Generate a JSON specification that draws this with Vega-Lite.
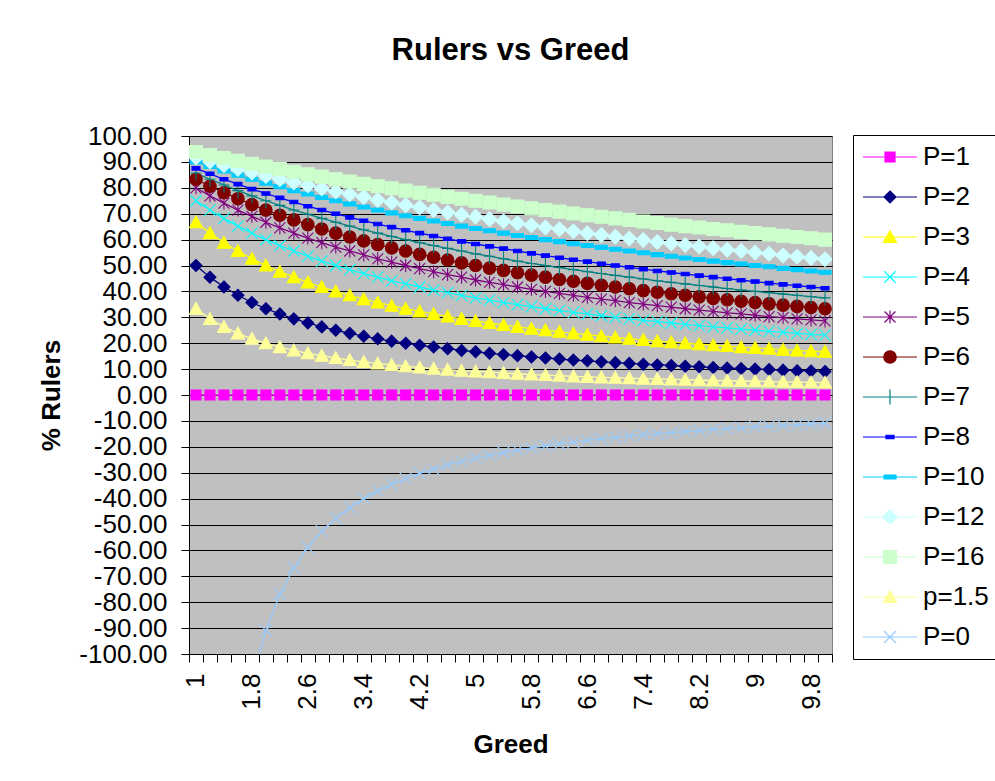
{
  "$schema": "https://vega.github.io/schema/vega-lite/v6.json",
  "width": 643,
  "height": 518,
  "autosize": {"type": "none"},
  "padding": {"left": 189, "top": 136, "right": 163, "bottom": 127},
  "background": "white",
  "title": {"text": "Rulers vs Greed", "font": "Liberation Sans", "fontSize": 31, "fontWeight": "bold", "color": "black", "anchor": "middle", "frame": "group", "offset": 56},
  "config": {
    "font": "Liberation Sans",
    "view": {"fill": "#C0C0C0", "stroke": "#808080", "strokeWidth": 1},
    "axis": {"labelFont": "Liberation Sans", "labelFontSize": 26, "labelColor": "black", "titleFont": "Liberation Sans", "titleFontSize": 26, "titleFontWeight": "bold", "titleColor": "black", "domainColor": "black", "tickColor": "black", "tickSize": 8, "gridColor": "black", "gridOpacity": 1, "gridWidth": 1}
  },
  "data": {"values": [
    {"G":1,"P1":0,"P2":50,"P3":66.7,"P4":75,"P5":80,"P6":83.3,"P7":85.7,"P8":87.5,"P10":90,"P12":91.7,"P16":93.8,"p15":33.3,"P0":-1000},
    {"G":1.2,"P1":0,"P2":45.5,"P3":62.5,"P4":71.4,"P5":76.9,"P6":80.6,"P7":83.3,"P8":85.4,"P10":88.2,"P12":90.2,"P16":92.6,"p15":29.4,"P0":-333.3},
    {"G":1.4,"P1":0,"P2":41.7,"P3":58.8,"P4":68.2,"P5":74.1,"P6":78.1,"P7":81.1,"P8":83.3,"P10":86.5,"P12":88.7,"P16":91.5,"p15":26.3,"P0":-200},
    {"G":1.6,"P1":0,"P2":38.5,"P3":55.6,"P4":65.2,"P5":71.4,"P6":75.8,"P7":78.9,"P8":81.4,"P10":84.9,"P12":87.3,"P16":90.4,"p15":23.8,"P0":-142.9},
    {"G":1.8,"P1":0,"P2":35.7,"P3":52.6,"P4":62.5,"P5":69,"P6":73.5,"P7":76.9,"P8":79.5,"P10":83.3,"P12":85.9,"P16":89.3,"p15":21.7,"P0":-111.1},
    {"G":2,"P1":0,"P2":33.3,"P3":50,"P4":60,"P5":66.7,"P6":71.4,"P7":75,"P8":77.8,"P10":81.8,"P12":84.6,"P16":88.2,"p15":20,"P0":-90.9},
    {"G":2.2,"P1":0,"P2":31.3,"P3":47.6,"P4":57.7,"P5":64.5,"P6":69.4,"P7":73.2,"P8":76.1,"P10":80.4,"P12":83.3,"P16":87.2,"p15":18.5,"P0":-76.9},
    {"G":2.4,"P1":0,"P2":29.4,"P3":45.5,"P4":55.6,"P5":62.5,"P6":67.6,"P7":71.4,"P8":74.5,"P10":78.9,"P12":82.1,"P16":86.2,"p15":17.2,"P0":-66.7},
    {"G":2.6,"P1":0,"P2":27.8,"P3":43.5,"P4":53.6,"P5":60.6,"P6":65.8,"P7":69.8,"P8":72.9,"P10":77.6,"P12":80.9,"P16":85.2,"p15":16.1,"P0":-58.8},
    {"G":2.8,"P1":0,"P2":26.3,"P3":41.7,"P4":51.7,"P5":58.8,"P6":64.1,"P7":68.2,"P8":71.4,"P10":76.3,"P12":79.7,"P16":84.3,"p15":15.2,"P0":-52.6},
    {"G":3,"P1":0,"P2":25,"P3":40,"P4":50,"P5":57.1,"P6":62.5,"P7":66.7,"P8":70,"P10":75,"P12":78.6,"P16":83.3,"p15":14.3,"P0":-47.6},
    {"G":3.2,"P1":0,"P2":23.8,"P3":38.5,"P4":48.4,"P5":55.6,"P6":61,"P7":65.2,"P8":68.6,"P10":73.8,"P12":77.5,"P16":82.4,"p15":13.5,"P0":-43.5},
    {"G":3.4,"P1":0,"P2":22.7,"P3":37,"P4":46.9,"P5":54.1,"P6":59.5,"P7":63.8,"P8":67.3,"P10":72.6,"P12":76.4,"P16":81.5,"p15":12.8,"P0":-40},
    {"G":3.6,"P1":0,"P2":21.7,"P3":35.7,"P4":45.5,"P5":52.6,"P6":58.1,"P7":62.5,"P8":66,"P10":71.4,"P12":75.3,"P16":80.6,"p15":12.2,"P0":-37},
    {"G":3.8,"P1":0,"P2":20.8,"P3":34.5,"P4":44.1,"P5":51.3,"P6":56.8,"P7":61.2,"P8":64.8,"P10":70.3,"P12":74.3,"P16":79.8,"p15":11.6,"P0":-34.5},
    {"G":4,"P1":0,"P2":20,"P3":33.3,"P4":42.9,"P5":50,"P6":55.6,"P7":60,"P8":63.6,"P10":69.2,"P12":73.3,"P16":78.9,"p15":11.1,"P0":-32.3},
    {"G":4.2,"P1":0,"P2":19.2,"P3":32.3,"P4":41.7,"P5":48.8,"P6":54.3,"P7":58.8,"P8":62.5,"P10":68.2,"P12":72.4,"P16":78.1,"p15":10.6,"P0":-30.3},
    {"G":4.4,"P1":0,"P2":18.5,"P3":31.3,"P4":40.5,"P5":47.6,"P6":53.2,"P7":57.7,"P8":61.4,"P10":67.2,"P12":71.4,"P16":77.3,"p15":10.2,"P0":-28.6},
    {"G":4.6,"P1":0,"P2":17.9,"P3":30.3,"P4":39.5,"P5":46.5,"P6":52.1,"P7":56.6,"P8":60.3,"P10":66.2,"P12":70.5,"P16":76.5,"p15":9.8,"P0":-27},
    {"G":4.8,"P1":0,"P2":17.2,"P3":29.4,"P4":38.5,"P5":45.5,"P6":51,"P7":55.6,"P8":59.3,"P10":65.2,"P12":69.6,"P16":75.8,"p15":9.4,"P0":-25.6},
    {"G":5,"P1":0,"P2":16.7,"P3":28.6,"P4":37.5,"P5":44.4,"P6":50,"P7":54.5,"P8":58.3,"P10":64.3,"P12":68.8,"P16":75,"p15":9.1,"P0":-24.4},
    {"G":5.2,"P1":0,"P2":16.1,"P3":27.8,"P4":36.6,"P5":43.5,"P6":49,"P7":53.6,"P8":57.4,"P10":63.4,"P12":67.9,"P16":74.3,"p15":8.8,"P0":-23.3},
    {"G":5.4,"P1":0,"P2":15.6,"P3":27,"P4":35.7,"P5":42.6,"P6":48.1,"P7":52.6,"P8":56.5,"P10":62.5,"P12":67.1,"P16":73.5,"p15":8.5,"P0":-22.2},
    {"G":5.6,"P1":0,"P2":15.2,"P3":26.3,"P4":34.9,"P5":41.7,"P6":47.2,"P7":51.7,"P8":55.6,"P10":61.6,"P12":66.3,"P16":72.8,"p15":8.2,"P0":-21.3},
    {"G":5.8,"P1":0,"P2":14.7,"P3":25.6,"P4":34.1,"P5":40.8,"P6":46.3,"P7":50.8,"P8":54.7,"P10":60.8,"P12":65.5,"P16":72.1,"p15":7.9,"P0":-20.4},
    {"G":6,"P1":0,"P2":14.3,"P3":25,"P4":33.3,"P5":40,"P6":45.5,"P7":50,"P8":53.8,"P10":60,"P12":64.7,"P16":71.4,"p15":7.7,"P0":-19.6},
    {"G":6.2,"P1":0,"P2":13.9,"P3":24.4,"P4":32.6,"P5":39.2,"P6":44.6,"P7":49.2,"P8":53,"P10":59.2,"P12":64,"P16":70.8,"p15":7.5,"P0":-18.9},
    {"G":6.4,"P1":0,"P2":13.5,"P3":23.8,"P4":31.9,"P5":38.5,"P6":43.9,"P7":48.4,"P8":52.2,"P10":58.4,"P12":63.2,"P16":70.1,"p15":7.2,"P0":-18.2},
    {"G":6.6,"P1":0,"P2":13.2,"P3":23.3,"P4":31.3,"P5":37.7,"P6":43.1,"P7":47.6,"P8":51.5,"P10":57.7,"P12":62.5,"P16":69.4,"p15":7,"P0":-17.5},
    {"G":6.8,"P1":0,"P2":12.8,"P3":22.7,"P4":30.6,"P5":37,"P6":42.4,"P7":46.9,"P8":50.7,"P10":57,"P12":61.8,"P16":68.8,"p15":6.8,"P0":-16.9},
    {"G":7,"P1":0,"P2":12.5,"P3":22.2,"P4":30,"P5":36.4,"P6":41.7,"P7":46.2,"P8":50,"P10":56.3,"P12":61.1,"P16":68.2,"p15":6.7,"P0":-16.4},
    {"G":7.2,"P1":0,"P2":12.2,"P3":21.7,"P4":29.4,"P5":35.7,"P6":41,"P7":45.5,"P8":49.3,"P10":55.6,"P12":60.4,"P16":67.6,"p15":6.5,"P0":-15.9},
    {"G":7.4,"P1":0,"P2":11.9,"P3":21.3,"P4":28.8,"P5":35.1,"P6":40.3,"P7":44.8,"P8":48.6,"P10":54.9,"P12":59.8,"P16":67,"p15":6.3,"P0":-15.4},
    {"G":7.6,"P1":0,"P2":11.6,"P3":20.8,"P4":28.3,"P5":34.5,"P6":39.7,"P7":44.1,"P8":47.9,"P10":54.2,"P12":59.1,"P16":66.4,"p15":6.2,"P0":-14.9},
    {"G":7.8,"P1":0,"P2":11.4,"P3":20.4,"P4":27.8,"P5":33.9,"P6":39.1,"P7":43.5,"P8":47.3,"P10":53.6,"P12":58.5,"P16":65.8,"p15":6,"P0":-14.5},
    {"G":8,"P1":0,"P2":11.1,"P3":20,"P4":27.3,"P5":33.3,"P6":38.5,"P7":42.9,"P8":46.7,"P10":52.9,"P12":57.9,"P16":65.2,"p15":5.9,"P0":-14.1},
    {"G":8.2,"P1":0,"P2":10.9,"P3":19.6,"P4":26.8,"P5":32.8,"P6":37.9,"P7":42.3,"P8":46.1,"P10":52.3,"P12":57.3,"P16":64.7,"p15":5.7,"P0":-13.7},
    {"G":8.4,"P1":0,"P2":10.6,"P3":19.2,"P4":26.3,"P5":32.3,"P6":37.3,"P7":41.7,"P8":45.5,"P10":51.7,"P12":56.7,"P16":64.1,"p15":5.6,"P0":-13.3},
    {"G":8.6,"P1":0,"P2":10.4,"P3":18.9,"P4":25.9,"P5":31.7,"P6":36.8,"P7":41.1,"P8":44.9,"P10":51.1,"P12":56.1,"P16":63.6,"p15":5.5,"P0":-13},
    {"G":8.8,"P1":0,"P2":10.2,"P3":18.5,"P4":25.4,"P5":31.3,"P6":36.2,"P7":40.5,"P8":44.3,"P10":50.6,"P12":55.6,"P16":63,"p15":5.4,"P0":-12.7},
    {"G":9,"P1":0,"P2":10,"P3":18.2,"P4":25,"P5":30.8,"P6":35.7,"P7":40,"P8":43.8,"P10":50,"P12":55,"P16":62.5,"p15":5.3,"P0":-12.3},
    {"G":9.2,"P1":0,"P2":9.8,"P3":17.9,"P4":24.6,"P5":30.3,"P6":35.2,"P7":39.5,"P8":43.2,"P10":49.5,"P12":54.5,"P16":62,"p15":5.2,"P0":-12},
    {"G":9.4,"P1":0,"P2":9.6,"P3":17.5,"P4":24.2,"P5":29.9,"P6":34.7,"P7":39,"P8":42.7,"P10":48.9,"P12":53.9,"P16":61.5,"p15":5.1,"P0":-11.8},
    {"G":9.6,"P1":0,"P2":9.4,"P3":17.2,"P4":23.8,"P5":29.4,"P6":34.2,"P7":38.5,"P8":42.2,"P10":48.4,"P12":53.4,"P16":61,"p15":5,"P0":-11.5},
    {"G":9.8,"P1":0,"P2":9.3,"P3":16.9,"P4":23.4,"P5":29,"P6":33.8,"P7":38,"P8":41.7,"P10":47.9,"P12":52.9,"P16":60.5,"p15":4.9,"P0":-11.2},
    {"G":10,"P1":0,"P2":9.1,"P3":16.7,"P4":23.1,"P5":28.6,"P6":33.3,"P7":37.5,"P8":41.2,"P10":47.4,"P12":52.4,"P16":60,"p15":4.8,"P0":-11}
  ]},
  "transform": [
    {"fold": ["P1","P2","P3","P4","P5","P6","P7","P8","P10","P12","P16","p15","P0"], "as": ["key","value"]},
    {"lookup": "key", "from": {"data": {"values": [
      {"key":"P1","label":"P=1","idx":1},{"key":"P2","label":"P=2","idx":2},{"key":"P3","label":"P=3","idx":3},
      {"key":"P4","label":"P=4","idx":4},{"key":"P5","label":"P=5","idx":5},{"key":"P6","label":"P=6","idx":6},
      {"key":"P7","label":"P=7","idx":7},{"key":"P8","label":"P=8","idx":8},{"key":"P10","label":"P=10","idx":9},
      {"key":"P12","label":"P=12","idx":10},{"key":"P16","label":"P=16","idx":11},{"key":"p15","label":"p=1.5","idx":12},
      {"key":"P0","label":"P=0","idx":13}]}, "key": "key", "fields": ["label","idx"]}}
  ],
  "encoding": {
    "x": {"field": "G", "type": "quantitative",
      "scale": {"domain": [0.9, 10.1], "nice": false, "zero": false},
      "axis": {"values": [0.9,1.1,1.3,1.5,1.7,1.9,2.1,2.3,2.5,2.7,2.9,3.1,3.3,3.5,3.7,3.9,4.1,4.3,4.5,4.7,4.9,5.1,5.3,5.5,5.7,5.9,6.1,6.3,6.5,6.7,6.9,7.1,7.3,7.5,7.7,7.9,8.1,8.3,8.5,8.7,8.9,9.1,9.3,9.5,9.7,9.9,10.1],
        "labelExpr": "indexof([0.9,1.7,2.5,3.3,4.1,4.9,5.7,6.5,7.3,8.1,8.9,9.7], datum.value) >= 0 ? ['1','1.8','2.6','3.4','4.2','5','5.8','6.6','7.4','8.2','9','9.8'][indexof([0.9,1.7,2.5,3.3,4.1,4.9,5.7,6.5,7.3,8.1,8.9,9.7], datum.value)] : ''",
        "labelAngle": -90, "labelOffset": 6.99, "labelPadding": 11, "labelOverlap": false, "labelFlush": false, "labelBound": false,
        "grid": false, "title": "Greed", "titleY": 98, "titleBaseline": "alphabetic"}},
    "y": {"field": "value", "type": "quantitative",
      "scale": {"domain": [-100, 100], "nice": false, "zero": false},
      "axis": {"values": [-100,-90,-80,-70,-60,-50,-40,-30,-20,-10,0,10,20,30,40,50,60,70,80,90,100],
        "labelExpr": "(datum.value < 0 ? '-' : '') + format(abs(datum.value), '.2f')",
        "labelPadding": 14, "labelOverlap": false, "grid": true,
        "title": "% Rulers", "titleAngle": -90, "titleX": -130, "titleY": 259, "titleBaseline": "alphabetic", "titleAlign": "center"}}
  },
  "resolve": {"scale": {"color": "independent", "fill": "independent", "stroke": "independent", "shape": "independent"}},
  "layer": [
    {
      "mark": {"type": "line", "strokeWidth": 1.3, "clip": true},
      "encoding": {
        "stroke": {"field": "label", "type": "nominal",
          "scale": {"domain": ["P=1","P=2","P=3","P=4","P=5","P=6","P=7","P=8","P=10","P=12","P=16","p=1.5","P=0"],
                    "range": ["#FF00FF","#000080","#FFFF00","#00FFFF","#800080","#800000","#008080","#0000FF","#00CCFF","#CCFFFF","#CCFFCC","#FFFF99","#99CCFF"]},
          "legend": null}
      }
    },
    {
      "mark": {"type": "point", "filled": true, "size": 100, "opacity": 1, "strokeWidth": 1.1, "clip": true},
      "encoding": {
        "color": {"field": "label", "type": "nominal",
          "scale": {"domain": ["P=1","P=2","P=3","P=4","P=5","P=6","P=7","P=8","P=10","P=12","P=16","p=1.5","P=0"],
                    "range": ["#FF00FF","#000080","#FFFF00","#00FFFF","#800080","#800000","#008080","#0000FF","#00CCFF","#CCFFFF","#CCFFCC","#FFFF99","#99CCFF"]},
          "legend": null},
        "stroke": {"field": "label", "type": "nominal",
          "scale": {"domain": ["P=1","P=2","P=3","P=4","P=5","P=6","P=7","P=8","P=10","P=12","P=16","p=1.5","P=0"],
                    "range": ["#FF00FF","#000080","#FFFF00","#00FFFF","#800080","#800000","#008080","#0000FF","#00CCFF","#CCFFFF","#CCFFCC","#FFFF99","#99CCFF"]},
          "legend": null},
        "shape": {"field": "label", "type": "nominal",
          "scale": {"domain": ["P=1","P=2","P=3","P=4","P=5","P=6","P=7","P=8","P=10","P=12","P=16","p=1.5","P=0"],
                    "range": ["M-1,-1H1V1H-1Z",
                              "M0,-1.2L1.2,0L0,1.2L-1.2,0Z",
                              "M0,-1.25L1.3,1.1H-1.3Z",
                              "M-1.15,-1.15L1.15,1.15M-1.15,1.15L1.15,-1.15",
                              "M-1.1,-1.1L1.1,1.1M-1.1,1.1L1.1,-1.1M0,-1.3V1.3",
                              "M-1.25,0A1.25,1.25,0,1,0,1.25,0A1.25,1.25,0,1,0,-1.25,0Z",
                              "M0,-1.5V1.5M-1.1,0H1.1",
                              "M-0.8,-0.35H0.8V0.35H-0.8Z",
                              "M-1.2,-0.4H1.2V0.4H-1.2Z",
                              "M0,-1.45L1.45,0L0,1.45L-1.45,0Z",
                              "M-1.3,-1.3H1.3V1.3H-1.3Z",
                              "M0,-1.25L1.3,1.1H-1.3Z",
                              "M-1.2,-1.2L1.2,1.2M-1.2,1.2L1.2,-1.2"]},
          "legend": null},
        "order": {"field": "idx", "type": "quantitative"}
      }
    },
    {
      "transform": [{"filter": "datum.G < 0"}],
      "mark": {"type": "point", "filled": false, "size": 100, "opacity": 1, "strokeWidth": 1.2, "clip": true},
      "encoding": {
        "color": {"field": "label", "type": "nominal",
          "scale": {"domain": ["P=1","P=2","P=3","P=4","P=5","P=6","P=7","P=8","P=10","P=12","P=16","p=1.5","P=0"],
                    "range": ["#FF00FF","#000080","#FFFF00","#00FFFF","#800080","#800000","#008080","#0000FF","#00CCFF","#CCFFFF","#CCFFCC","#FFFF99","#99CCFF"]},
          "legend": {"title": null, "orient": "none", "direction": "vertical", "legendX": 664, "legendY": -1,
            "padding": 9, "strokeColor": "black", "fillColor": "white",
            "labelFont": "Liberation Sans", "labelFontSize": 26, "labelColor": "black", "labelLimit": 300,
            "labelOffset": 20, "symbolOffset": 15, "symbolSize": 100, "symbolStrokeWidth": 1.2, "symbolOpacity": 1, "rowPadding": 14}},
        "fill": {"field": "label", "type": "nominal",
          "scale": {"domain": ["P=1","P=2","P=3","P=4","P=5","P=6","P=7","P=8","P=10","P=12","P=16","p=1.5","P=0"],
                    "range": ["#FF00FF","#000080","#FFFF00","#00FFFF","#800080","#800000","#008080","#0000FF","#00CCFF","#CCFFFF","#CCFFCC","#FFFF99","#99CCFF"]},
          "legend": {"title": null}},
        "shape": {"field": "label", "type": "nominal",
          "scale": {"domain": ["P=1","P=2","P=3","P=4","P=5","P=6","P=7","P=8","P=10","P=12","P=16","p=1.5","P=0"],
                    "range": ["M-5.4,0H5.4M-1,-1H1V1H-1Z",
                              "M-5.4,0H5.4M0,-1.2L1.2,0L0,1.2L-1.2,0Z",
                              "M-5.4,0H5.4M0,-1.25L1.3,1.1H-1.3Z",
                              "M-5.4,0H5.4M-1.15,-1.15L1.15,1.15M-1.15,1.15L1.15,-1.15",
                              "M-5.4,0H5.4M-1.1,-1.1L1.1,1.1M-1.1,1.1L1.1,-1.1M0,-1.3V1.3",
                              "M-5.4,0H5.4M-1.25,0A1.25,1.25,0,1,0,1.25,0A1.25,1.25,0,1,0,-1.25,0Z",
                              "M-5.4,0H5.4M0,-1.5V1.5",
                              "M-5.4,0H5.4M-0.8,-0.35H0.8V0.35H-0.8Z",
                              "M-5.4,0H5.4M-1.2,-0.4H1.2V0.4H-1.2Z",
                              "M-5.4,0H5.4M0,-1.45L1.45,0L0,1.45L-1.45,0Z",
                              "M-5.4,0H5.4M-1.3,-1.3H1.3V1.3H-1.3Z",
                              "M-5.4,0H5.4M0,-1.25L1.3,1.1H-1.3Z",
                              "M-5.4,0H5.4M-1.2,-1.2L1.2,1.2M-1.2,1.2L1.2,-1.2"]},
          "legend": {"title": null}}
      }
    }
  ]
}
